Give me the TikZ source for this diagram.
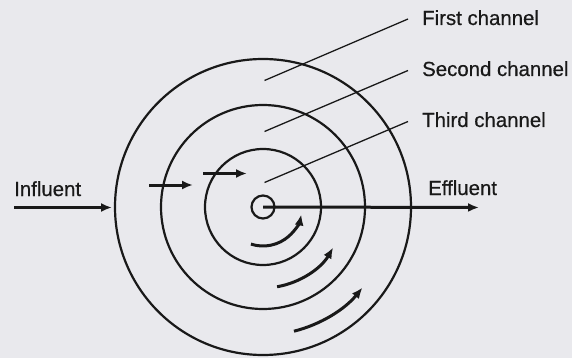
\documentclass[tikz,border=0pt]{standalone}
\usepackage{fontspec}
\setmainfont[FakeBold=0.5]{Liberation Sans}
\usetikzlibrary{arrows.meta}
\definecolor{paper}{RGB}{233,233,237}
\definecolor{ink}{RGB}{25,25,25}
\tikzset{
  ring/.style={draw=ink, line width=2.2pt},
  leader/.style={draw=ink, line width=1.3pt},
  flow/.style={draw=ink, line width=3pt, -{Latex[length=11pt,width=9pt]}},
  lbl/.style={font=\fontsize{20.4}{24}\selectfont, text=ink, inner sep=0pt, anchor=base west},
}
\begin{document}
\begin{tikzpicture}[x=1pt, y=-1pt]
\fill[paper] (0,0) rectangle (572,358);
\useasboundingbox (0,0) rectangle (572,358);
% rings
\draw[ring] (263,207) circle[radius=148];
\draw[ring] (263,207) circle[radius=102];
\draw[ring] (263,207) circle[radius=58];
\node[ring, circle, minimum size=23pt, inner sep=0pt] (c) at (263,207) {};
% labels
\node[lbl] (first) at (422,25) {First channel};
\node[lbl] (second) at (422,76) {Second channel};
\node[lbl] (third) at (422,127) {Third channel};
\node[lbl] (infl) at (14,196) {Influent};
\node[lbl] (effl) at (428,195) {Effluent};
% leader lines
\coordinate (p1) at (264.5,80.5);
\coordinate (p2) at (264.5,131.5);
\coordinate (p3) at (264.5,182.5);
\coordinate (q1) at (408,19);
\coordinate (q2) at (408,70.5);
\coordinate (q3) at (408,121.5);
\draw[leader] (p1) -- (q1);
\draw[leader] (p2) -- (q2);
\draw[leader] (p3) -- (q3);
% straight flows
\coordinate (in0) at (14,207.5);
\coordinate (in1) at (112,207.5);
\draw[flow] (in0) -- (in1);
\coordinate (e1) at (479,207.5);
\draw[flow] (c.center) -- (e1);
\coordinate (a0) at (149,185);
\coordinate (a1) at (193,185);
\draw[flow] (a0) -- (a1);
\coordinate (b0) at (203,173.5);
\coordinate (b1) at (247,173.5);
\draw[flow] (b0) -- (b1);
% curved flows
\draw[flow] ([shift={(263,207)}]108:39) arc[start angle=108, end angle=11, radius=39];
\draw[flow] ([shift={(263,207)}]80:81) arc[start angle=80, end angle=30, radius=81];
\draw[flow] ([shift={(263,207)}]76:128) arc[start angle=76, end angle=39, radius=128];
\end{tikzpicture}
\end{document}
